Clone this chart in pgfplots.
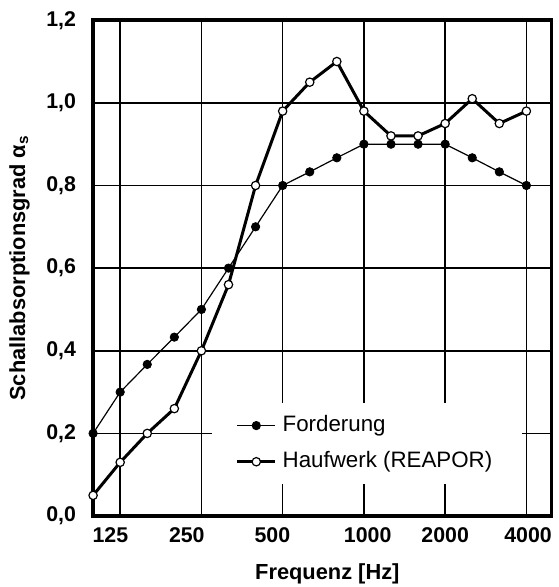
\documentclass[border=0pt]{standalone}
\usepackage{fontspec}
\setmainfont{Liberation Sans}
\usepackage{pgfplots}
\pgfplotsset{compat=1.18}
\begin{document}
\begin{tikzpicture}
\begin{axis}[
  scale only axis,
  width=460.5bp, height=498bp,
  xmin=0, xmax=16.93, ymin=0, ymax=1.2,
  clip=false,
  axis line style={line width=3.5bp},
  grid=major,
  major grid style={line width=1.5bp, black},
  major tick length=0pt,
  xtick={1,4,7,10,13,16},
  xticklabels={},
  extra x ticks={0.64,3.46,6.62,10.14,13,16.06},
  extra x tick labels={125,250,500,1000,2000,4000},
  extra x tick style={grid=none, major tick length=0pt},
  xticklabel style={font=\fontsize{21.5}{25}\selectfont\bfseries, inner sep=0pt, anchor=north, yshift=-11.7bp},
  ytick={0,0.2,0.4,0.6,0.8,1.0,1.2},
  yticklabels={{0,0},{0,2},{0,4},{0,6},{0,8},{1,0},{1,2}},
  yticklabel style={font=\fontsize{21.5}{25}\selectfont\bfseries, inner sep=0pt, anchor=east, xshift=-17bp},
  xlabel={Frequenz [Hz]},
  xlabel style={font=\fontsize{22}{25}\selectfont\bfseries, at={(rel axis cs:0.5109,-0.1273)}, anchor=base},
  ylabel={Schallabsorptionsgrad α\textsubscript{s}},
  ylabel style={font=\fontsize{22}{25}\selectfont\bfseries, at={(rel axis cs:-0.1607,0.5)}, anchor=center},
  legend cell align=left,
  legend style={at={(rel axis cs:0.2589,0.228)}, anchor=north west, draw=none, fill=white,
    font=\fontsize{22.5}{25}\selectfont, inner xsep=24bp, inner ysep=12bp, row sep=15.3bp,
    nodes={inner xsep=6bp, inner ysep=0bp, text height=16bp, text depth=5bp}},
  legend image code/.code={\draw[mark repeat=2,mark phase=2,#1] plot coordinates {(6bp,0bp) (25bp,0bp) (44bp,0bp)};},
]
\addplot[black, line width=1.2bp, mark=*, mark size=4.2bp, mark options={fill=black, line width=0.8bp}] coordinates {
(0,0.2) (1,0.3) (2,0.367) (3,0.433) (4,0.5) (5,0.6) (6,0.7) (7,0.8) (8,0.833) (9,0.867) (10,0.9) (11,0.9) (12,0.9) (13,0.9) (14,0.867) (15,0.833) (16,0.8)};
\addlegendentry{Forderung}
\addplot[black, line width=3bp, mark=*, mark size=4.2bp, mark options={fill=white, line width=1.2bp}] coordinates {
(0,0.05) (1,0.13) (2,0.2) (3,0.26) (4,0.4) (5,0.56) (6,0.8) (7,0.98) (8,1.05) (9,1.1) (10,0.98) (11,0.92) (12,0.92) (13,0.95) (14,1.01) (15,0.95) (16,0.98)};
\addlegendentry{Haufwerk (REAPOR)}
\coordinate (sw) at (rel axis cs:0,0);
\end{axis}
\path (sw) ++(-93.5bp,-68.7bp) rectangle ++(561bp,587bp);
\end{tikzpicture}
\end{document}
